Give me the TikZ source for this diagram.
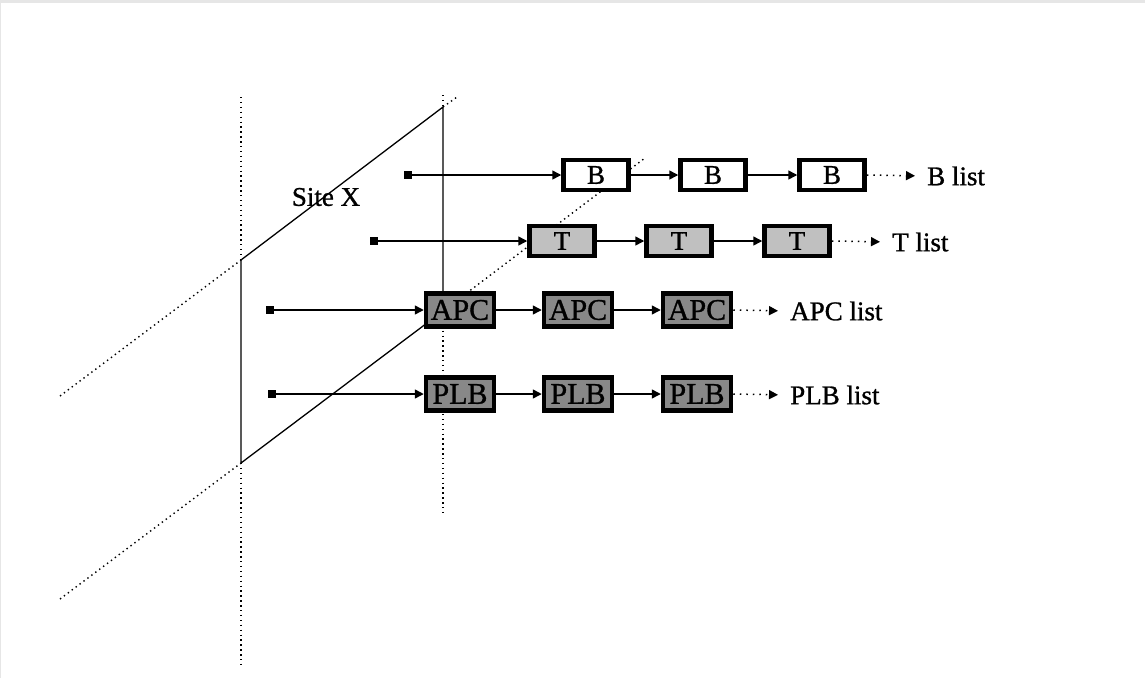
\documentclass[tikz,border=0pt]{standalone}
\usepackage{fontspec}
\setmainfont{Liberation Serif}
\newfontfamily\heavyfont{Liberation Serif}[BoldFont={Liberation Serif},BoldFeatures={FakeBold=1.0}]
\usetikzlibrary{arrows.meta}
\definecolor{lightfill}{HTML}{C0C0C0}
\definecolor{darkfill}{HTML}{888888}
\definecolor{framegray}{HTML}{E6E6E6}
\begin{document}
\begin{tikzpicture}[x=1pt,y=-1pt,
  box/.style={draw=black,line width=4.5pt,inner sep=0pt,minimum width=65pt,minimum height=30pt,font=\heavyfont\bfseries\fontsize{27}{30}\selectfont},
  bbox/.style={box,fill=white},
  tbox/.style={box,fill=lightfill},
  abox/.style={box,fill=darkfill,minimum width=68pt,minimum height=33pt,font=\heavyfont\bfseries\fontsize{30}{32}\selectfont},
  startsq/.style={fill=black,inner sep=0pt,minimum size=8pt},
  link/.style={line width=1.5pt,-{Triangle[length=9pt,width=9pt]}},
  tail/.style={line width=1.5pt,dash pattern=on 1.5pt off 5pt,-{Triangle[length=9pt,width=9pt]},shorten >=12pt},
  lbl/.style={anchor=west,inner sep=0pt,font=\heavyfont\bfseries\fontsize{27}{30}\selectfont},
  planeedge/.style={line width=1.3pt},
  hidden/.style={line width=1.4pt,dash pattern=on 1.4pt off 3.5pt}
]
% frame and page
\fill[framegray] (0,0) rectangle (1145,678);
\fill[white] (1,3) rectangle (1145,678);
\useasboundingbox (0,0) rectangle (1145,678);

% plane corners
\coordinate (tl) at (241,260);
\coordinate (bl) at (241,463);
\coordinate (tr) at (443,107);
\coordinate (br) at (443,311);
% extensions
\coordinate (tlx) at (60,396);
\coordinate (blx) at (60,599);
\coordinate (trx) at (457,97);
\coordinate (brx) at (645,158);
\coordinate (ltop) at (241,97);
\coordinate (lbot) at (241,665);
\coordinate (rtop) at (443,95);
\coordinate (rbot) at (443,512);

% hidden (dotted) parts
\draw[hidden] (tlx) -- (tl);
\draw[hidden] (tr) -- (trx);
\draw[hidden] (blx) -- (bl);
\draw[hidden] (br) -- (brx);
\draw[hidden] (ltop) -- (tl);
\draw[hidden] (bl) -- (lbot);
\draw[hidden] (rtop) -- (tr);
\draw[hidden] (br) -- (rbot);
% visible plane edges
\draw[planeedge] (tl) -- (tr) -- (br) -- (bl) -- cycle;

\node[font=\heavyfont\bfseries\fontsize{27}{30}\selectfont] (site) at (326,197) {Site X};

% B row
\node[startsq] (sB) at (408,175) {};
\node[bbox] (b1) at (596,175) {B};
\node[bbox] (b2) at (713,175) {B};
\node[bbox] (b3) at (832,175) {B};
\node[lbl] (lB) at (927,176) {B list};
\draw[link] (sB) -- (b1.west);
\draw[link] (b1) -- (b2.west);
\draw[link] (b2) -- (b3.west);
\draw[tail] (b3.east) -- (lB.west);

% T row
\node[startsq] (sT) at (374,241) {};
\node[tbox] (t1) at (562,241) {T};
\node[tbox] (t2) at (679,241) {T};
\node[tbox] (t3) at (797,241) {T};
\node[lbl] (lT) at (892,242) {T list};
\draw[link] (sT) -- (t1.west);
\draw[link] (t1) -- (t2.west);
\draw[link] (t2) -- (t3.west);
\draw[tail] (t3.east) -- (lT.west);

% APC row
\node[startsq] (sA) at (270,310) {};
\node[abox] (a1) at (460,310) {APC};
\node[abox] (a2) at (578,310) {APC};
\node[abox] (a3) at (697,310) {APC};
\node[lbl] (lA) at (790,311) {APC list};
\draw[link] (sA) -- (a1.west);
\draw[link] (a1) -- (a2.west);
\draw[link] (a2) -- (a3.west);
\draw[tail] (a3.east) -- (lA.west);

% PLB row
\node[startsq] (sP) at (272,394) {};
\node[abox] (p1) at (460,394) {PLB};
\node[abox] (p2) at (578,394) {PLB};
\node[abox] (p3) at (697,394) {PLB};
\node[lbl] (lP) at (790,395) {PLB list};
\draw[link] (sP) -- (p1.west);
\draw[link] (p1) -- (p2.west);
\draw[link] (p2) -- (p3.west);
\draw[tail] (p3.east) -- (lP.west);
\end{tikzpicture}
\end{document}
